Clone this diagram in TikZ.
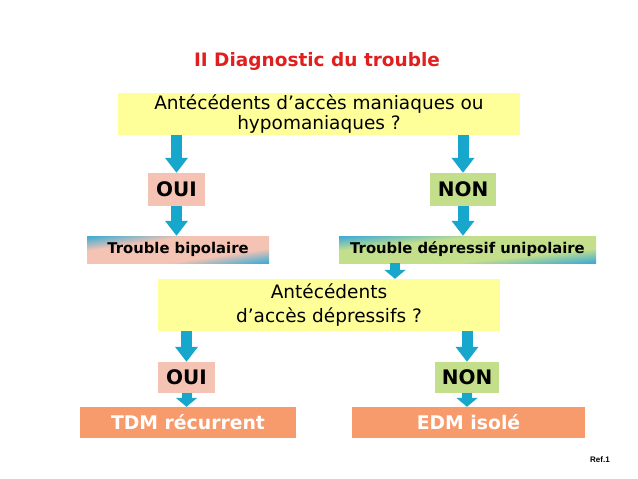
\documentclass[tikz,border=0pt]{standalone}
\usepackage{fontspec}
\setmainfont{DejaVu Sans}
\newfontfamily\reffont{Liberation Sans}
\usetikzlibrary{arrows.meta,backgrounds}
\definecolor{boxyellow}{HTML}{FFFF99}
\definecolor{ouipink}{HTML}{F4C3B3}
\definecolor{nongreen}{HTML}{C4DF8C}
\definecolor{arrowblue}{HTML}{17A6CC}
\definecolor{gradblue}{HTML}{45ADD3}
\definecolor{tdmorange}{HTML}{F79B6C}
\definecolor{titlered}{HTML}{E0201E}
\pgfdeclareverticalshading{bipolshade}{100bp}{color(0bp)=(gradblue); color(16bp)=(gradblue); color(34bp)=(ouipink); color(66bp)=(ouipink); color(84bp)=(gradblue); color(100bp)=(gradblue)}
\pgfdeclareverticalshading{unipolshade}{100bp}{color(0bp)=(gradblue); color(16bp)=(gradblue); color(34bp)=(nongreen); color(66bp)=(nongreen); color(84bp)=(gradblue); color(100bp)=(gradblue)}
\tikzset{
  question/.style={fill=boxyellow, inner sep=0pt, align=center, font=\fontsize{18.5}{20}\selectfont},
  answer/.style={inner sep=0pt, font=\fontsize{20}{22}\selectfont\bfseries},
  diagbox/.style={inner sep=0pt, font=\fontsize{14.8}{17}\selectfont\bfseries},
  resultbox/.style={fill=tdmorange, inner sep=0pt, text=white, font=\fontsize{18.8}{21}\selectfont\bfseries},
  bigarrow/.style={draw=arrowblue, line width=11pt, -{Triangle[width=22pt,length=15pt,fill=arrowblue,color=arrowblue]}},
  smallarrow/.style={draw=arrowblue, line width=10pt, -{Triangle[width=21pt,length=9pt,fill=arrowblue,color=arrowblue]}}
}
\begin{document}
\begin{tikzpicture}[x=1pt,y=-1pt]
\useasboundingbox (0,0) rectangle (638,479);

\node[text=titlered, font=\fontsize{18.5}{20}\selectfont\bfseries] (title) at (317,61) {II Diagnostic du trouble};

\node[question, minimum width=402pt, minimum height=42pt] (q1) at (319,114) {Antécédents d’accès maniaques ou\\hypomaniaques ?};

\node[answer, fill=ouipink, minimum width=57pt, minimum height=33pt] (oui1) at (176.5,189.5) {OUI};
\node[answer, fill=nongreen, minimum width=66pt, minimum height=33pt] (non1) at (463,189.5) {NON};

\node[diagbox, minimum width=182pt, minimum height=27pt] (tb) at (178,249.5) {Trouble bipolaire};
\node[diagbox, minimum width=257pt, minimum height=27pt] (tdu) at (467.5,249.5) {Trouble dépressif unipolaire};

\node[question, font=\fontsize{18.5}{24}\selectfont, minimum width=342pt, minimum height=52pt] (q2) at (329,305) {Antécédents\\d’accès dépressifs ?};

\node[answer, fill=ouipink, minimum width=57pt, minimum height=31pt] (oui2) at (186.5,377.5) {OUI};
\node[answer, fill=nongreen, minimum width=64pt, minimum height=31pt] (non2) at (467,377.5) {NON};

\node[resultbox, minimum width=216pt, minimum height=31pt] (tdm) at (188,422.5) {TDM récurrent};
\node[resultbox, minimum width=233pt, minimum height=31pt] (edm) at (468.5,422.5) {EDM isolé};

\node[font=\reffont\fontsize{8}{9}\selectfont\bfseries] (ref) at (600,460) {Ref.1};

\coordinate (a5) at (395,0);

\begin{scope}[on background layer]
  \fill[white] (0,0) rectangle (638,479);
  \begin{scope}[transform canvas={shift={(tb.center)}, xscale=18.2, yscale=2.7}]
    \shade[shading=bipolshade, shading angle=45] (-5pt,-5pt) rectangle (5pt,5pt);
  \end{scope}
  \begin{scope}[transform canvas={shift={(tdu.center)}, xscale=25.7, yscale=2.7}]
    \shade[shading=unipolshade, shading angle=45] (-5pt,-5pt) rectangle (5pt,5pt);
  \end{scope}
\end{scope}

\draw[bigarrow] (q1.south -| oui1.north) -- (oui1.north);
\draw[bigarrow] (q1.south -| non1.north) -- (non1.north);
\draw[bigarrow] (oui1.south) -- (oui1.south |- tb.north);
\draw[bigarrow] (non1.south) -- (non1.south |- tdu.north);
\draw[smallarrow] (tdu.south -| a5) -- (q2.north -| a5);
\draw[bigarrow] (q2.south -| oui2.north) -- (oui2.north);
\draw[bigarrow] (q2.south -| non2.north) -- (non2.north);
\draw[smallarrow] (oui2.south) -- (oui2.south |- tdm.north);
\draw[smallarrow] (non2.south) -- (non2.south |- edm.north);
\end{tikzpicture}
\end{document}
